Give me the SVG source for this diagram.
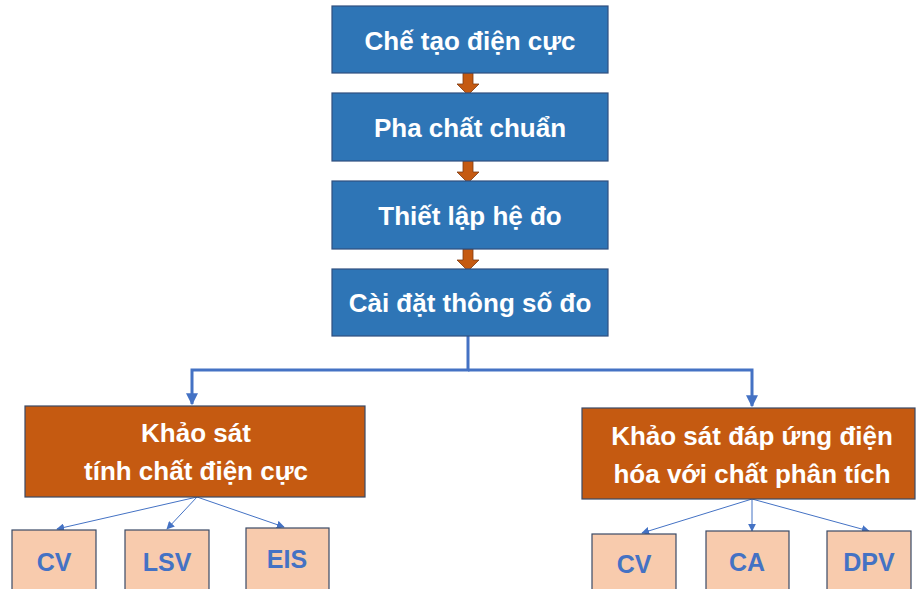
<svg xmlns="http://www.w3.org/2000/svg" width="916" height="589" viewBox="0 0 916 589">
<style>
.bb{fill:#2E75B6;stroke:#2F4F7F;stroke-width:1.2}
.ob{fill:#C55A11;stroke:#3A4A66;stroke-width:1.2}
.pb{fill:#F8CBAD;stroke:#3A4A66;stroke-width:1.2}
.wt{font-family:"Liberation Sans",Arial,sans-serif;font-weight:bold;font-size:26px;fill:#FFFFFF;text-anchor:middle}
.st{font-family:"Liberation Sans",Arial,sans-serif;font-weight:bold;font-size:25px;fill:#4472C4;text-anchor:middle}
.oa{fill:#C55A11;stroke:#7F3A10;stroke-width:0.8}
.thick{fill:none;stroke:#4472C4;stroke-width:3}
.thin{fill:none;stroke:#4472C4;stroke-width:1}
</style>
<defs>
<marker id="ah" viewBox="0 0 10 10" refX="9" refY="5" markerWidth="4" markerHeight="4" orient="auto" markerUnits="strokeWidth"><path d="M0,0 L10,5 L0,10 z" fill="#4472C4"/></marker>
<marker id="ahs" viewBox="0 0 10 10" refX="9" refY="5" markerWidth="8" markerHeight="8" orient="auto" markerUnits="strokeWidth"><path d="M0,0 L10,5 L0,10 z" fill="#4472C4"/></marker>
</defs>
<g id="connectors">
<path class="oa" d="M463,73 H473 V84 H479 L468,95 L457,84 H463 Z"/>
<path class="oa" d="M463,161 H473 V172 H479 L468,183 L457,172 H463 Z"/>
<path class="oa" d="M463,249 H473 V260 H479 L468,271 L457,260 H463 Z"/>
<path class="thick" d="M468,336 V370 H192 V404" marker-end="url(#ah)"/>
<path class="thick" d="M468,370 H752 V406" marker-end="url(#ah)"/>
<path class="thin" d="M197,497 L57,529" marker-end="url(#ahs)"/>
<path class="thin" d="M197,497 L167,529" marker-end="url(#ahs)"/>
<path class="thin" d="M197,497 L284,527" marker-end="url(#ahs)"/>
<path class="thin" d="M752,499 L642,533" marker-end="url(#ahs)"/>
<path class="thin" d="M752,499 L752,531" marker-end="url(#ahs)"/>
<path class="thin" d="M752,499 L869,531" marker-end="url(#ahs)"/>
</g>
<g id="n1"><rect class="bb" x="332" y="6" width="276" height="67"/><text class="wt" x="470" y="50">Chế tạo điện cực</text></g>
<g id="n2"><rect class="bb" x="332" y="93" width="276" height="68"/><text class="wt" x="470" y="137">Pha chất chuẩn</text></g>
<g id="n3"><rect class="bb" x="332" y="181" width="276" height="68"/><text class="wt" x="470" y="225">Thiết lập hệ đo</text></g>
<g id="n4"><rect class="bb" x="332" y="269" width="276" height="67"/><text class="wt" x="470" y="312">Cài đặt thông số đo</text></g>
<g id="n5"><rect class="ob" x="25" y="406" width="340" height="91"/><text class="wt" x="196" y="442">Khảo sát</text><text class="wt" x="196" y="480">tính chất điện cực</text></g>
<g id="n6"><rect class="ob" x="582" y="408" width="333" height="91"/><text class="wt" x="752" y="445">Khảo sát đáp ứng điện</text><text class="wt" x="752" y="483">hóa với chất phân tích</text></g>
<g id="n7"><rect class="pb" x="12" y="530" width="84" height="70"/><text class="st" x="54" y="571">CV</text></g>
<g id="n8"><rect class="pb" x="125" y="530" width="84" height="70"/><text class="st" x="167" y="571">LSV</text></g>
<g id="n9"><rect class="pb" x="246" y="528" width="83" height="72"/><text class="st" x="287" y="568">EIS</text></g>
<g id="n10"><rect class="pb" x="592" y="534" width="84" height="66"/><text class="st" x="634" y="573">CV</text></g>
<g id="n11"><rect class="pb" x="706" y="531" width="83" height="69"/><text class="st" x="747" y="571">CA</text></g>
<g id="n12"><rect class="pb" x="827" y="531" width="84" height="69"/><text class="st" x="869" y="571">DPV</text></g>
</svg>
